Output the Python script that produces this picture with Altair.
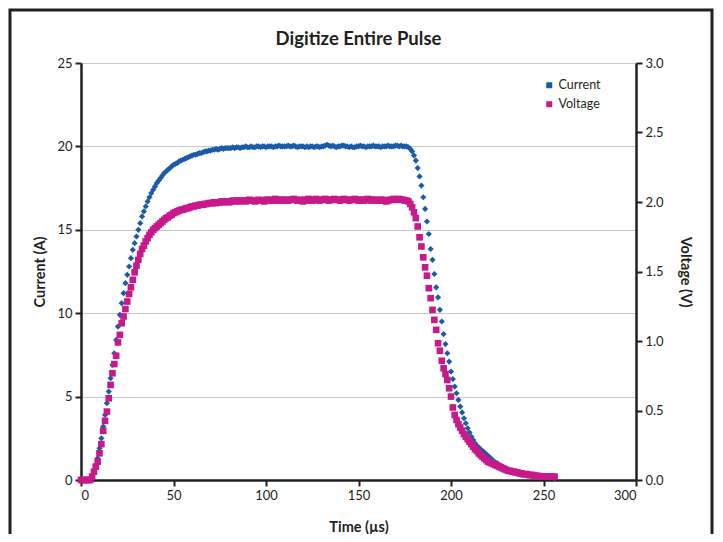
import altair as alt
import pandas as pd

time_us = list(range(0, 257))

current_a = [
    0, 0, 0, 0, 0, 0, 0.1, 0.4, 0.8, 1.3,
    1.9, 2.5, 3.2, 3.9, 4.6, 5.3, 6.1, 6.9, 7.6, 8.4,
    9.2, 9.9, 10.6, 11.2, 11.8, 12.3, 12.8, 13.3, 13.8, 14.2,
    14.6, 15.0, 15.4, 15.8, 16.1, 16.4, 16.7, 16.95, 17.2, 17.4,
    17.6, 17.8, 17.95, 18.1, 18.25, 18.4, 18.5, 18.6, 18.7, 18.8,
    18.9, 18.95, 19.0, 19.1, 19.15, 19.2, 19.25, 19.3, 19.35, 19.4,
    19.45, 19.5, 19.5, 19.55, 19.6, 19.6, 19.65, 19.7, 19.7, 19.75,
    19.75, 19.8, 19.8, 19.85, 19.8, 19.85, 19.9, 19.85, 19.9, 19.9,
    19.9, 19.9, 19.95, 19.9, 19.95, 19.95, 19.9, 19.95, 19.95, 20.0,
    19.95, 19.95, 20.0, 19.95, 19.95, 20.0, 20.0, 19.95, 20.0, 20.0,
    19.95, 20.0, 20.0, 20.0, 19.95, 20.0, 20.0, 20.05, 20.0, 20.0,
    20.0, 20.0, 20.05, 20.0, 20.0, 20.05, 20.0, 19.95, 20.0, 20.0,
    20.0, 19.95, 20.0, 19.95, 20.0, 20.0, 19.95, 20.0, 20.0, 19.95,
    20.0, 20.0, 20.05, 20.1, 20.05, 20.0, 20.05, 20.0, 19.95, 20.0,
    20.0, 20.05, 20.05, 20.0, 20.0, 19.95, 20.0, 19.95, 19.95, 20.0,
    20.0, 20.05, 20.0, 20.0, 19.95, 20.0, 20.0, 20.0, 20.05, 20.0,
    20.0, 20.0, 19.95, 20.0, 20.0, 20.0, 20.05, 20.0, 20.0, 20.0,
    20.05, 20.05, 20.0, 20.05, 20.0, 20.0, 20.0, 19.95, 19.85, 19.7,
    19.45, 19.15, 18.7, 18.2, 17.65, 16.95, 16.25, 15.5, 14.75, 13.85,
    13.2, 12.35, 11.55, 10.95, 10.2, 9.5, 8.75, 8.15, 7.6, 7.1,
    6.5, 6.05, 5.6, 5.2, 4.8, 4.4, 4.05, 3.7, 3.4, 3.1,
    2.85, 2.6, 2.4, 2.2, 2.05, 1.95, 1.85, 1.75, 1.65, 1.55,
    1.45, 1.35, 1.25, 1.15, 1.05, 1.0, 0.9, 0.85, 0.8, 0.7,
    0.65, 0.6, 0.55, 0.5, 0.5, 0.45, 0.45, 0.4, 0.4, 0.35,
    0.35, 0.3, 0.3, 0.3, 0.25, 0.25, 0.25, 0.2, 0.2, 0.2,
    0.2, 0.15, 0.15, 0.15, 0.15, 0.15, 0.1,
]

voltage_v = [
    0, 0, 0, 0, 0, 0, 0.024, 0.06, 0.096, 0.132,
    0.192, 0.258, 0.354, 0.426, 0.492, 0.588, 0.684, 0.768, 0.834, 0.894,
    0.99, 1.044, 1.128, 1.176, 1.23, 1.284, 1.338, 1.386, 1.44, 1.494,
    1.542, 1.584, 1.626, 1.662, 1.686, 1.716, 1.74, 1.764, 1.782, 1.80,
    1.812, 1.824, 1.836, 1.848, 1.86, 1.872, 1.884, 1.89, 1.902, 1.908,
    1.92, 1.926, 1.932, 1.938, 1.944, 1.944, 1.95, 1.956, 1.956, 1.962,
    1.968, 1.968, 1.974, 1.974, 1.98, 1.98, 1.98, 1.986, 1.986, 1.992,
    1.992, 1.992, 1.998, 1.992, 1.998, 1.998, 2.004, 1.998, 2.004, 2.004,
    1.998, 2.004, 2.01, 2.004, 2.01, 2.01, 2.004, 2.01, 2.01, 2.004,
    2.01, 2.016, 2.01, 2.01, 2.004, 2.01, 2.016, 2.01, 2.01, 2.004,
    2.016, 2.016, 2.01, 2.016, 2.01, 2.022, 2.016, 2.01, 2.016, 2.016,
    2.01, 2.016, 2.01, 2.016, 2.016, 2.022, 2.016, 2.01, 2.01, 2.016,
    2.004, 2.016, 2.01, 2.022, 2.016, 2.01, 2.016, 2.022, 2.016, 2.01,
    2.016, 2.016, 2.022, 2.016, 2.01, 2.016, 2.016, 2.022, 2.016, 2.016,
    2.01, 2.016, 2.022, 2.016, 2.016, 2.01, 2.016, 2.016, 2.022, 2.016,
    2.01, 2.016, 2.016, 2.01, 2.016, 2.022, 2.016, 2.01, 2.016, 2.016,
    2.01, 2.01, 2.016, 2.016, 2.01, 2.004, 2.01, 2.016, 2.016, 2.022,
    2.016, 2.016, 2.022, 2.016, 2.016, 2.01, 2.01, 2.004, 1.986, 1.962,
    1.926, 1.884, 1.824, 1.746, 1.68, 1.602, 1.53, 1.47, 1.38, 1.308,
    1.224, 1.152, 1.08, 0.984, 0.93, 0.858, 0.804, 0.762, 0.72, 0.66,
    0.60, 0.522, 0.468, 0.432, 0.402, 0.378, 0.354, 0.33, 0.312, 0.294,
    0.276, 0.258, 0.24, 0.222, 0.21, 0.192, 0.18, 0.168, 0.156, 0.144,
    0.132, 0.126, 0.12, 0.114, 0.108, 0.102, 0.096, 0.09, 0.084, 0.078,
    0.072, 0.066, 0.066, 0.06, 0.06, 0.054, 0.054, 0.048, 0.048, 0.042,
    0.042, 0.042, 0.036, 0.036, 0.036, 0.03, 0.03, 0.03, 0.024, 0.024,
    0.024, 0.024, 0.024, 0.024, 0.024, 0.024, 0.024,
]

chart_title = ["Digitize Entire Pulse"]
series_names = ["Current", "Voltage"]
series_colors = ["#1b5ba6", "#c8198b"]
x_ticks = [0, 50, 100, 150, 200, 250, 300]
left_ticks = [0, 5, 10, 15, 20, 25]
right_ticks = [0, 0.5, 1.0, 1.5, 2.0, 2.5, 3.0]

FONT = "Lato"
INK = "#231f20"

df_i = pd.DataFrame({"t": time_us, "value": current_a, "series": "Current"})
df_v = pd.DataFrame({"t": time_us, "value": voltage_v, "series": "Voltage"})

color = alt.Color(
    "series:N",
    scale=alt.Scale(domain=series_names, range=series_colors),
    legend=alt.Legend(
        title=None, orient="none", legendX=462, legendY=16,
        symbolType="square", symbolSize=36, symbolStrokeWidth=0,
        labelFont=FONT, labelFontSize=12.5, labelColor=INK,
        rowPadding=6, labelOffset=3,
    ),
)

x_enc = alt.X(
    "t:Q",
    scale=alt.Scale(domain=[0, 300], nice=False),
    axis=alt.Axis(values=x_ticks, title="Time (µs)", grid=False, titlePadding=18),
)

frame = alt.Chart(pd.DataFrame({"k": [0]})).mark_rect(
    filled=False, stroke=INK, strokeWidth=3, clip=False
).encode(
    x=alt.value(-71), x2=alt.value(631), y=alt.value(-53), y2=alt.value(485)
)

title_text = alt.Chart(pd.DataFrame({"label": chart_title})).mark_text(
    font=FONT, fontSize=18.5, fontWeight="bold", color=INK,
    align="center", baseline="alphabetic", clip=False,
).encode(
    text="label:N", x=alt.value(277.5), y=alt.value(-18)
)

cur = alt.Chart(df_i).mark_point(shape="diamond", filled=True, size=38, opacity=1).encode(
    x=x_enc,
    y=alt.Y(
        "value:Q",
        scale=alt.Scale(domain=[0, 25], nice=False),
        axis=alt.Axis(values=left_ticks, title="Current (A)", grid=True, orient="left",
                      titlePadding=9),
    ),
    color=color,
)

vol = alt.Chart(df_v).mark_point(shape="square", filled=True, size=44, opacity=1).encode(
    x=x_enc,
    y=alt.Y(
        "value:Q",
        scale=alt.Scale(domain=[0, 3], nice=False),
        axis=alt.Axis(values=right_ticks, title="Voltage (V)", grid=False, orient="right",
                      format=".1f", titlePadding=14),
    ),
    color=color,
)

chart = (
    alt.layer(frame, title_text, cur, vol)
    .resolve_scale(y="independent")
    .properties(
        width=555,
        height=417,
        autosize=alt.AutoSizeParams(type="none"),
        padding={"left": 73, "top": 55, "right": 79, "bottom": 54},
    )
    .configure_view(stroke=None)
    .configure_axis(
        labelFont=FONT, labelFontSize=13, labelColor=INK,
        titleFont=FONT, titleFontSize=14.5, titleFontWeight="bold", titleColor=INK,
        domainColor=INK, domainWidth=2.5,
        tickColor=INK, tickWidth=2, tickSize=6,
        gridColor="#c8c8c8", gridWidth=1.2, labelPadding=3,
    )
)

chart.save("out.html", embed_options={"renderer": "svg", "actions": False})
